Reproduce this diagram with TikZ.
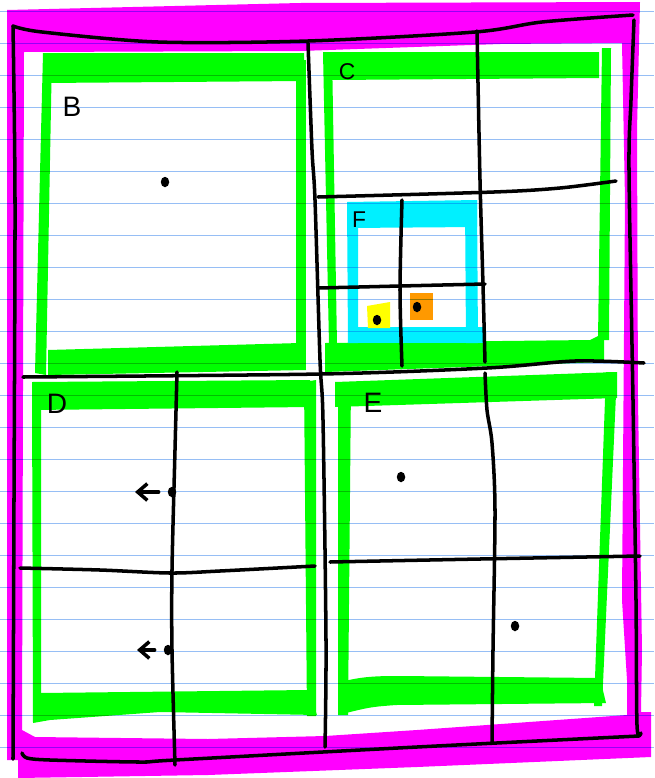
\documentclass[tikz,border=0pt]{standalone}
\usepackage{fontspec}
\setmainfont{Liberation Sans}
\usetikzlibrary{arrows.meta,shapes.geometric}
\definecolor{frame}{RGB}{255,0,255}
\definecolor{leaf}{RGB}{0,255,0}
\definecolor{inner}{RGB}{0,240,255}
\definecolor{ptA}{RGB}{255,255,0}
\definecolor{ptB}{RGB}{255,153,0}
\definecolor{rule}{RGB}{150,190,245}

\begin{document}
\begin{tikzpicture}[x=0.02cm,y=-0.02cm,
    pen/.style={line width=2pt,line cap=round,line join=round},
    band/.style={fill=leaf},
    dot/.style={ellipse,fill,inner sep=0pt,minimum width=0.17cm,minimum height=0.21cm},
    letter/.style={font=\fontsize{16}{16}\selectfont,inner sep=0pt},
    >={Straight Barb[length=5.5pt,width=9.5pt]}]
  \useasboundingbox (0,0) rectangle (654,778);
  \fill[white] (0,0) rectangle (654,778);

  % outer highlight
  \fill[frame,even odd rule]
    (7,10) -- (300,3) -- (640,2) -- (637,130) -- (638,400) -- (642,650)
    -- (641,712) -- (651,712) -- (651,757) -- (417,767) -- (208,775)
    -- (18,778) -- (18,760) -- (7,760) -- cycle
    (24,52) -- (300,51) -- (500,44) -- (622,43) -- (625,200) -- (622,600)
    -- (627,680) -- (627,715) -- (417,730) -- (325,736) -- (208,739)
    -- (35,737) -- (22,730) -- cycle;

  % B
  \fill[band] (43,53) -- (304,53) -- (304,81) -- (43,83) -- cycle;
  \fill[band] (43,53) -- (52,53) -- (46,375) -- (35,373) -- cycle;
  \fill[band] (296,60) -- (306,60) -- (306,370) -- (296,370) -- cycle;
  \fill[band] (48,350) -- (300,343) -- (306,370) -- (48,375) -- cycle;
  % C
  \fill[band] (323,52) -- (332,52) -- (337,345) -- (329,345) -- cycle;
  \fill[band] (332,52) -- (599,52) -- (599,78) -- (332,80) -- cycle;
  \fill[band] (602,48) -- (611,48) -- (609,340) -- (598,340) -- cycle;
  \fill[band] (325,343) -- (590,340) -- (604,333) -- (604,362) -- (325,372) -- cycle;
  % F
  \fill[inner] (347,202) -- (477,200) -- (477,227) -- (347,228) -- cycle;
  \fill[inner] (347,202) -- (358,202) -- (358,343) -- (348,343) -- cycle;
  \fill[inner] (465,200) -- (477,200) -- (478,343) -- (466,343) -- cycle;
  \fill[inner] (348,327) -- (483,327) -- (483,343) -- (348,343) -- cycle;
  \fill[ptA] (367,306) -- (390,302) -- (390,328) -- (368,328) -- cycle;
  \fill[ptB] (410,293) rectangle (433,320);
  % D
  \fill[band] (32,382) -- (310,380) -- (310,407) -- (32,410) -- cycle;
  \fill[band] (32,382) -- (41,382) -- (41,720) -- (33,722) -- cycle;
  \fill[band] (304,382) -- (316,380) -- (316,716) -- (307,716) -- cycle;
  \fill[band] (40,693) -- (308,690) -- (317,715) -- (160,712) -- (50,720)
    -- (33,723) -- cycle;
  % E
  \fill[band] (335,382) -- (617,372) -- (617,398) -- (335,407) -- cycle;
  \fill[band] (338,382) -- (351,382) -- (348,715) -- (338,715) -- cycle;
  \fill[band] (606,372) -- (617,372) -- (602,706) -- (594,706) -- cycle;
  \fill[band] (338,683) .. controls (360,676) and (380,676) .. (400,676)
    -- (600,678) -- (606,703) -- (396,705) .. controls (370,707) .. (338,715)
    -- cycle;

  % paper
  \begin{scope}[blend mode=multiply]
    \foreach \k in {0,...,23}
      \draw[rule,line width=0.9pt] (0,{11.5+32*\k}) -- (654,{11.5+32*\k});
  \end{scope}

  % cells
  \draw[pen] plot[smooth] coordinates {(13,26) (42,32) (158,42) (308,41)
    (475,32) (542,22) (633,15)};
  \draw[pen] plot[smooth] coordinates {(13,26) (15,200) (14,500) (13,759)};
  \draw[pen] plot[smooth] coordinates {(634,20) (631,100) (629,170) (633,400)
    (636,600) (637,725) (641,733)};
  \draw[pen] plot[smooth] coordinates {(22,753) (27,758) (50,760) (140,762)
    (175,760) (417,747) (639,736)};
  \draw[pen] plot[smooth] coordinates {(308,43) (312,150) (315,200) (320,360)
    (323,420) (326,640) (325,747)};
  \draw[pen] plot[smooth] coordinates {(23,377) (321,374) (487,368) (575,361)
    (644,363)};
  \draw[pen] plot[smooth] coordinates {(318,197) (494,192) (560,188) (616,181)};
  \draw[pen] plot[smooth] coordinates {(477,31) (480,180) (483,285) (485,362)};
  \draw[pen] plot[smooth] coordinates {(402,200) (400,290) (402,366)};
  \draw[pen] plot[smooth] coordinates {(318,288) (400,286) (485,284)};
  \draw[pen] plot[smooth] coordinates {(177,372) (175,450) (172,570) (172,650)
    (175,765)};
  \draw[pen] plot[smooth] coordinates {(20,568) (100,570) (170,573) (220,571)
    (315,566)};
  \draw[pen] plot[smooth] coordinates {(485,373) (487,410) (492,443) (495,510)
    (493,650) (492,742)};
  \draw[pen] plot[smooth] coordinates {(330,562) (480,559) (640,556)};

  \node[letter] (lblB) at (72,107) {B};
  \node[letter,font=\fontsize{13}{13}\selectfont] (lblC) at (347,72) {C};
  \node[letter,font=\fontsize{13}{13}\selectfont] (lblF) at (359,220) {F};
  \node[letter] (lblD) at (57,404) {D};
  \node[letter] (lblE) at (373,403) {E};

  \node[dot] (dotB) at (165,182) {};
  \node[dot] (dotFy) at (377,320) {};
  \node[dot] (dotFo) at (417,307) {};
  \node[dot] (dotDa) at (172,492) {};
  \node[dot] (dotDb) at (168,650) {};
  \node[dot] (dotEa) at (401,477) {};
  \node[dot] (dotEb) at (515,626) {};

  \coordinate (tipDa) at (135,492);
  \coordinate (tipDb) at (137,650);
  \draw[pen,->,shorten <=5pt] (dotDa) -- (tipDa);
  \draw[pen,->,shorten <=5pt] (dotDb) -- (tipDb);
\end{tikzpicture}
\end{document}
